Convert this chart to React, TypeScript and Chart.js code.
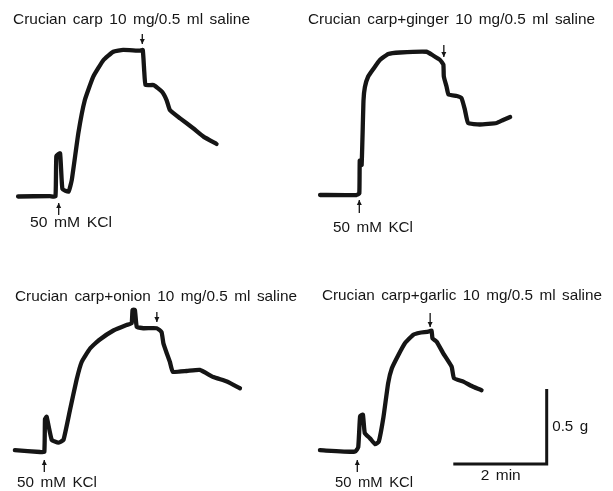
import React, { useEffect, useRef } from 'react';
import { Chart, registerables } from 'chart.js';
Chart.register(...registerables);

// Time in minutes relative to 50 mM KCl addition; tension in g relative to baseline
const titles = [
  'Crucian carp 10 mg/0.5 ml saline',
  'Crucian carp+ginger 10 mg/0.5 ml saline',
  'Crucian carp+onion 10 mg/0.5 ml saline',
  'Crucian carp+garlic 10 mg/0.5 ml saline',
];
const kclLabel = '50 mM KCl';
const drugTimes = [1.79, 1.81, 2.41, 1.56];
const kclTime = 0;

const carpT = [-0.87, -0.19, -0.07, -0.05, 0.03, 0.08, 0.21, 0.28, 0.42, 0.56, 0.74, 0.96, 1.17, 1.38, 1.74, 1.8, 1.83, 1.86, 2.03, 2.21, 2.31, 2.38, 2.6, 2.88, 3.1, 3.38];
const carpG = [0, 0.003, 0.0, 0.27, 0.288, 0.05, 0.032, 0.11, 0.421, 0.643, 0.799, 0.91, 0.965, 0.977, 0.972, 0.977, 0.843, 0.743, 0.743, 0.699, 0.643, 0.577, 0.521, 0.455, 0.399, 0.35];

const gingerT = [-0.84, -0.06, 0.0, 0.01, 0.05, 0.09, 0.12, 0.19, 0.3, 0.44, 0.62, 0.87, 1.44, 1.58, 1.73, 1.8, 1.81, 1.87, 1.91, 2.09, 2.19, 2.26, 2.33, 2.58, 2.94, 3.08, 3.23];
const gingerG = [0, 0, 0.01, 0.23, 0.2, 0.63, 0.72, 0.79, 0.84, 0.9, 0.94, 0.95, 0.955, 0.93, 0.9, 0.87, 0.79, 0.72, 0.67, 0.66, 0.645, 0.57, 0.48, 0.47, 0.48, 0.5, 0.52];

const onionT = [-0.63, -0.09, 0.0, 0.015, 0.05, 0.16, 0.3, 0.41, 0.55, 0.69, 0.8, 0.98, 1.19, 1.48, 1.76, 1.87, 1.89, 1.94, 1.98, 2.12, 2.41, 2.51, 2.55, 2.62, 2.69, 2.75, 3.05, 3.33, 3.62, 3.91, 4.19];
const onionG = [0.013, 0, 0, 0.22, 0.235, 0.08, 0.062, 0.08, 0.28, 0.48, 0.6, 0.69, 0.75, 0.81, 0.847, 0.858, 0.947, 0.947, 0.835, 0.825, 0.825, 0.8, 0.725, 0.66, 0.6, 0.535, 0.54, 0.547, 0.5, 0.47, 0.425];

const garlicT = [-0.8, -0.05, 0.02, 0.06, 0.12, 0.16, 0.27, 0.38, 0.46, 0.56, 0.66, 0.74, 0.88, 1.02, 1.2, 1.34, 1.52, 1.59, 1.61, 1.7, 1.84, 2.02, 2.07, 2.27, 2.48, 2.66];
const garlicG = [0.01, 0, 0.03, 0.236, 0.247, 0.124, 0.09, 0.05, 0.067, 0.23, 0.456, 0.556, 0.645, 0.723, 0.78, 0.793, 0.8, 0.807, 0.756, 0.733, 0.656, 0.567, 0.49, 0.467, 0.433, 0.41];

const seriesT = [carpT, gingerT, onionT, garlicT];
const seriesG = [carpG, gingerG, onionG, garlicG];

// Scale bar
const scaleBarMin = 2;
const scaleBarG = 0.5;
const scaleBarLabels = ['2 min', '0.5 g'];

// ---- layout (pixels) ----
const W = 613;
const H = 491;
const PX_PER_MIN = 46.7;
const PX_PER_G = 150;
// page position of (t=0, g=0) for each panel
const origins = [
  [58.7, 196.5],
  [359.3, 195],
  [44.3, 452],
  [357.3, 451.7],
];
const titleBoxes = [
  [13, 20, 237],
  [308, 20, 287],
  [15, 296.5, 282],
  [322, 295.5, 280],
];
const kclBoxes = [
  [30, 223, 82],
  [333, 227.5, 80],
  [17, 483, 80],
  [335, 483, 78],
];
const upArrowY = [
  [203, 215],
  [200, 213],
  [460, 472],
  [460, 472],
];
const downArrowY = [
  [34, 44],
  [45, 57],
  [312, 322],
  [313, 327],
];
const scaleCorner = [546.7, 464];
const WORD_GAP = 6.5;

const FONT = '15px "Liberation Sans", Arial, sans-serif';
const INK = '#151515';

function drawSpaced(ctx: CanvasRenderingContext2D, text: string, left: number, cy: number, width: number) {
  ctx.save();
  ctx.font = FONT;
  ctx.fillStyle = INK;
  ctx.textBaseline = 'middle';
  ctx.textAlign = 'left';
  const words = text.split(' ');
  const ws = words.map((w) => ctx.measureText(w).width);
  const sum = ws.reduce((a, b) => a + b, 0);
  const s = (width - WORD_GAP * (words.length - 1)) / sum;
  let x = left;
  words.forEach((w, i) => {
    ctx.save();
    ctx.translate(x, cy);
    ctx.scale(s, 1);
    ctx.fillText(w, 0, 0);
    ctx.restore();
    x += ws[i] * s + WORD_GAP;
  });
  ctx.restore();
}

function drawArrow(ctx: CanvasRenderingContext2D, x: number, y1: number, y2: number, down: boolean) {
  ctx.save();
  ctx.strokeStyle = INK;
  ctx.fillStyle = INK;
  ctx.lineWidth = 1.3;
  ctx.beginPath();
  ctx.moveTo(x, y1);
  ctx.lineTo(x, y2);
  ctx.stroke();
  const tip = down ? y2 : y1;
  const dir = down ? -1 : 1;
  ctx.beginPath();
  ctx.moveTo(x, tip);
  ctx.lineTo(x - 2.5, tip + dir * 5);
  ctx.lineTo(x + 2.5, tip + dir * 5);
  ctx.closePath();
  ctx.fill();
  ctx.restore();
}

const annotPlugin = {
  id: 'annot',
  afterDraw(chart: any) {
    const ctx = chart.ctx as CanvasRenderingContext2D;
    for (let i = 0; i < 4; i++) {
      const xs = chart.scales['x' + i];
      const [tl, ty, tw] = titleBoxes[i];
      drawSpaced(ctx, titles[i], tl, ty, tw);
      const [kl, ky, kw] = kclBoxes[i];
      drawSpaced(ctx, kclLabel, kl, ky, kw);
      const kx = xs.getPixelForValue(kclTime);
      drawArrow(ctx, kx, upArrowY[i][0], upArrowY[i][1], false);
      const dx = xs.getPixelForValue(drugTimes[i]);
      drawArrow(ctx, dx, downArrowY[i][0], downArrowY[i][1], true);
    }
    // scale bar labels
    const xs = chart.scales.x3;
    const ys = chart.scales.y3;
    const ds = chart.data.datasets[4].data;
    const c = ds[1];
    const cx = xs.getPixelForValue(c.x);
    const cy = ys.getPixelForValue(c.y);
    const midY = ys.getPixelForValue(c.y + scaleBarG / 2);
    drawSpaced(ctx, scaleBarLabels[0], cx - 66, cy + 12, 40);
    drawSpaced(ctx, scaleBarLabels[1], cx + 5.5, midY, 36);
  },
};

export default function App() {
  const ref = useRef<HTMLCanvasElement | null>(null);
  useEffect(() => {
    if (!ref.current) return;
    const scales: any = {};
    const datasets: any[] = [];
    for (let i = 0; i < 4; i++) {
      const [x0, y0] = origins[i];
      scales['x' + i] = { type: 'linear', display: false, min: -x0 / PX_PER_MIN, max: (W - x0) / PX_PER_MIN };
      scales['y' + i] = { type: 'linear', display: false, min: -(H - y0) / PX_PER_G, max: y0 / PX_PER_G };
      datasets.push({
        label: titles[i],
        data: seriesT[i].map((t, j) => ({ x: t, y: seriesG[i][j] })),
        xAxisID: 'x' + i,
        yAxisID: 'y' + i,
        borderColor: INK,
        borderWidth: 4.3,
        pointRadius: 0,
        tension: 0.12,
        fill: false,
        borderJoinStyle: 'round',
        borderCapStyle: 'round',
        clip: false,
      });
    }
    const [sx, sy] = scaleCorner;
    const ct = (sx - origins[3][0]) / PX_PER_MIN;
    const cg = (origins[3][1] - sy) / PX_PER_G;
    datasets.push({
      label: 'scale',
      data: [
        { x: ct - scaleBarMin, y: cg },
        { x: ct, y: cg },
        { x: ct, y: cg + scaleBarG },
      ],
      xAxisID: 'x3',
      yAxisID: 'y3',
      borderColor: INK,
      borderWidth: 3,
      pointRadius: 0,
      tension: 0,
      fill: false,
      clip: false,
    });
    const chart = new Chart(ref.current, {
      type: 'line',
      data: { datasets },
      options: {
        animation: false,
        responsive: false,
        devicePixelRatio: 1,
        layout: { padding: 0 },
        scales,
        plugins: { legend: { display: false }, tooltip: { enabled: false }, title: { display: false } },
        events: [],
      },
      plugins: [annotPlugin],
    } as any);
    return () => chart.destroy();
  }, []);
  return (
    <div style={{ position: 'absolute', left: 0, top: 0, width: W, height: H, background: '#fff' }}>
      <canvas ref={ref} width={W} height={H} style={{ display: 'block' }} />
    </div>
  );
}
